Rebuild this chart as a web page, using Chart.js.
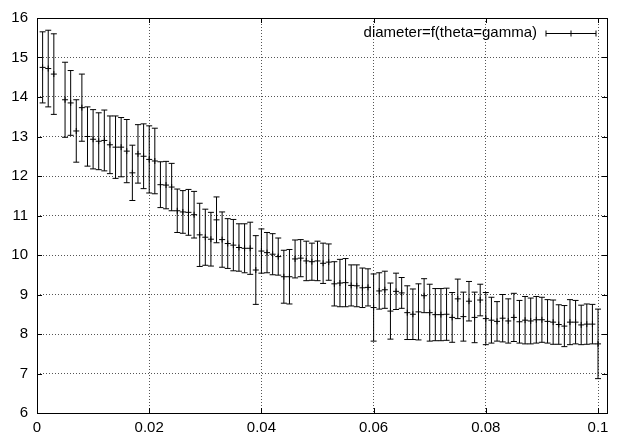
<!DOCTYPE html>
<html>
<head>
<meta charset="utf-8">
<script src="https://cdn.jsdelivr.net/npm/chart.js@4.4.0/dist/chart.umd.min.js"></script>
<style>
  html, body { margin: 0; padding: 0; background: #fff; }
</style>
</head>
<body>
<canvas id="diameter" width="623" height="441"></canvas>
<script>
// theta values (0.004 has no measurement)
const theta = [0.001, 0.002, 0.003, 0.005, 0.006, 0.007, 0.008, 0.009, 0.010,
  0.011, 0.012, 0.013, 0.014, 0.015, 0.016, 0.017, 0.018, 0.019, 0.020,
  0.021, 0.022, 0.023, 0.024, 0.025, 0.026, 0.027, 0.028, 0.029, 0.030,
  0.031, 0.032, 0.033, 0.034, 0.035, 0.036, 0.037, 0.038, 0.039, 0.040,
  0.041, 0.042, 0.043, 0.044, 0.045, 0.046, 0.047, 0.048, 0.049, 0.050,
  0.051, 0.052, 0.053, 0.054, 0.055, 0.056, 0.057, 0.058, 0.059, 0.060,
  0.061, 0.062, 0.063, 0.064, 0.065, 0.066, 0.067, 0.068, 0.069, 0.070,
  0.071, 0.072, 0.073, 0.074, 0.075, 0.076, 0.077, 0.078, 0.079, 0.080,
  0.081, 0.082, 0.083, 0.084, 0.085, 0.086, 0.087, 0.088, 0.089, 0.090,
  0.091, 0.092, 0.093, 0.094, 0.095, 0.096, 0.097, 0.098, 0.099, 0.100];

// mean diameter
const diameter = [14.75, 14.72, 14.58, 13.93, 13.85, 13.14, 13.73, 13.00, 12.93,
  12.88, 12.90, 12.79, 12.73, 12.73, 12.63, 12.08, 12.56, 12.50, 12.42,
  12.38, 11.78, 11.77, 11.72, 11.12, 11.09, 11.08, 11.02, 10.51, 10.45,
  10.40, 10.89, 10.39, 10.29, 10.25, 10.19, 10.17, 10.17, 9.62, 10.10,
  10.06, 10.02, 9.96, 9.45, 9.45, 9.90, 9.92, 9.85, 9.83, 9.85,
  9.79, 9.82, 9.27, 9.29, 9.30, 9.23, 9.22, 9.17, 9.18, 8.67,
  9.09, 9.12, 8.58, 9.08, 9.04, 8.54, 8.50, 8.56, 8.97, 8.54,
  8.49, 8.49, 8.50, 8.42, 8.89, 8.44, 8.83, 8.42, 8.86, 8.39,
  8.35, 8.32, 8.40, 8.33, 8.42, 8.31, 8.35, 8.33, 8.36, 8.36,
  8.32, 8.30, 8.24, 8.20, 8.30, 8.30, 8.23, 8.25, 8.25, 7.75];

// half width of each error bar
const spread = [0.90, 0.97, 1.02, 0.95, 0.82, 0.79, 0.85, 0.75, 0.75,
  0.72, 0.77, 0.73, 0.79, 0.75, 0.80, 0.70, 0.74, 0.82, 0.85,
  0.83, 0.58, 0.60, 0.60, 0.55, 0.54, 0.58, 0.59, 0.80, 0.71,
  0.68, 0.58, 0.70, 0.63, 0.65, 0.60, 0.62, 0.66, 0.87, 0.56,
  0.51, 0.52, 0.47, 0.67, 0.69, 0.48, 0.47, 0.50, 0.47, 0.50,
  0.51, 0.46, 0.56, 0.60, 0.61, 0.52, 0.53, 0.50, 0.47, 0.85,
  0.46, 0.47, 0.71, 0.46, 0.39, 0.68, 0.64, 0.71, 0.43, 0.72,
  0.66, 0.66, 0.66, 0.63, 0.50, 0.62, 0.50, 0.64, 0.40, 0.66,
  0.58, 0.50, 0.60, 0.56, 0.61, 0.54, 0.60, 0.58, 0.59, 0.57,
  0.55, 0.56, 0.50, 0.52, 0.57, 0.55, 0.50, 0.51, 0.50, 0.88];

const seriesLabel = 'diameter=f(theta=gamma)';

Chart.defaults.font.family = '"Liberation Sans", Arial, sans-serif';
Chart.defaults.font.size = 15;
Chart.defaults.color = '#000';

const points = theta.map((t, i) => ({ x: t, y: diameter[i], e: spread[i] }));

// vertical bars with small caps, gnuplot style
const errorBars = {
  id: 'errorBars',
  beforeDatasetsDraw(chart) {
    const { ctx, scales: { x, y } } = chart;
    const cap = 3;
    ctx.save();
    ctx.strokeStyle = '#000';
    ctx.lineWidth = 1;
    chart.data.datasets[0].data.forEach(p => {
      const px = x.getPixelForValue(p.x);
      const top = y.getPixelForValue(p.y + p.e);
      const bot = y.getPixelForValue(p.y - p.e);
      ctx.beginPath();
      ctx.moveTo(px, top); ctx.lineTo(px, bot);
      ctx.moveTo(px - cap, top); ctx.lineTo(px + cap, top);
      ctx.moveTo(px - cap, bot); ctx.lineTo(px + cap, bot);
      ctx.stroke();
    });
    ctx.restore();
  }
};

// border, inward tics on all sides and the key in the top right corner
const frame = {
  id: 'frame',
  afterDraw(chart) {
    const { ctx, chartArea: a, scales: { x, y } } = chart;
    const tic = 5;
    ctx.save();
    ctx.strokeStyle = '#000';
    ctx.lineWidth = 1;
    ctx.beginPath();
    x.ticks.forEach(t => {
      const px = Math.round(x.getPixelForValue(t.value)) + 0.5;
      ctx.moveTo(px, a.bottom); ctx.lineTo(px, a.bottom - tic);
      ctx.moveTo(px, a.top); ctx.lineTo(px, a.top + tic);
    });
    y.ticks.forEach(t => {
      const py = Math.round(y.getPixelForValue(t.value)) + 0.5;
      ctx.moveTo(a.left, py); ctx.lineTo(a.left + tic, py);
      ctx.moveTo(a.right, py); ctx.lineTo(a.right - tic, py);
    });
    ctx.stroke();
    ctx.strokeRect(Math.round(a.left) + 0.5, Math.round(a.top) + 0.5,
      Math.round(a.right - a.left), Math.round(a.bottom - a.top));

    // key
    const ky = a.top + 15;
    ctx.fillStyle = '#000';
    ctx.font = '15px "Liberation Sans", Arial, sans-serif';
    ctx.textAlign = 'right';
    ctx.textBaseline = 'middle';
    ctx.fillText(chart.data.datasets[0].label, a.right - 70, ky);
    const x0 = a.right - 61, x1 = a.right - 11, ly = Math.round(ky) + 0.5;
    const mid = (x0 + x1) / 2;
    ctx.beginPath();
    ctx.moveTo(x0, ly); ctx.lineTo(x1, ly);
    ctx.moveTo(x0, ly - 3); ctx.lineTo(x0, ly + 3);
    ctx.moveTo(x1, ly - 3); ctx.lineTo(x1, ly + 3);
    ctx.moveTo(mid, ly - 3); ctx.lineTo(mid, ly + 3);
    ctx.stroke();
    ctx.restore();
  }
};

const gridStyle = {
  color: '#555',
  lineWidth: 1,
  drawTicks: false
};

new Chart(document.getElementById('diameter'), {
  type: 'scatter',
  data: {
    datasets: [{
      label: seriesLabel,
      data: points,
      pointStyle: 'cross',
      pointRadius: 3,
      pointBorderWidth: 1,
      borderColor: '#000',
      backgroundColor: '#000'
    }]
  },
  options: {
    responsive: false,
    animation: false,
    devicePixelRatio: 1,
    layout: { padding: { left: 0, top: 13, right: 16, bottom: 0 } },
    plugins: {
      legend: { display: false },
      tooltip: { enabled: false }
    },
    scales: {
      x: {
        type: 'linear',
        min: 0,
        max: 0.1016,
        border: { display: false, dash: [1, 2] },
        grid: gridStyle,
        ticks: {
          stepSize: 0.02,
          includeBounds: false,
          padding: 6,
          maxRotation: 0,
          callback: v => String(parseFloat(v.toFixed(4)))
        },
        afterFit: s => { s.height = 28; }
      },
      y: {
        min: 6,
        max: 16,
        border: { display: false, dash: [1, 2] },
        grid: gridStyle,
        ticks: { stepSize: 1, padding: 9 },
        afterFit: s => { s.width = 37; }
      }
    }
  },
  plugins: [errorBars, frame]
});
</script>
</body>
</html>
